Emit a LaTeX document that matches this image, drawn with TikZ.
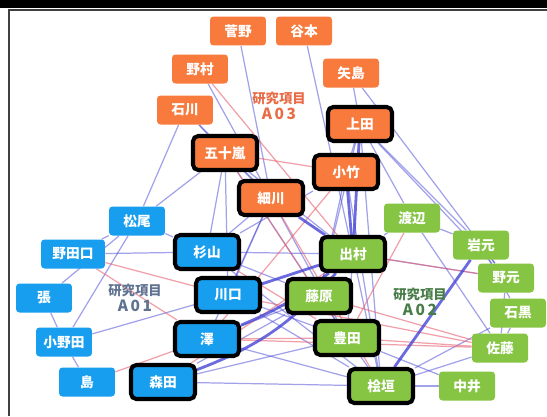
\documentclass[tikz,border=0pt]{standalone}
\usepackage{fontspec}
\setmainfont{Noto Sans CJK JP}
\usetikzlibrary{backgrounds}

\definecolor{teamA}{RGB}{24,158,238}
\definecolor{teamB}{RGB}{134,196,68}
\definecolor{teamC}{RGB}{248,122,60}
\definecolor{linkblue}{RGB}{70,70,215}
\definecolor{linkred}{RGB}{232,96,112}
\definecolor{labelA}{RGB}{95,115,145}
\definecolor{labelB}{RGB}{72,125,72}
\definecolor{labelC}{RGB}{232,108,70}

\tikzset{
  member/.style={rectangle, rounded corners=2pt, text=white, inner sep=1pt,
    font=\fontsize{7.8}{8}\selectfont\bfseries, minimum width=1.12cm, minimum height=0.58cm},
  leader/.style={member, draw=black, line width=2.3pt, rounded corners=3pt,
    minimum width=1.28cm, minimum height=0.68cm},
  grouplabel/.style={font=\fontsize{7.6}{9.4}\selectfont\bfseries, align=center, inner sep=0pt},
  link/.style={linkblue, opacity=.5, line width=.7pt},
  rlink/.style={linkred, opacity=.6, line width=.7pt},
  strong/.style={linkblue, opacity=.8, line width=1.6pt}
}

\begin{document}
\begin{tikzpicture}[x=0.02cm, y=-0.02cm]
  \useasboundingbox (0,0) rectangle (547,416);

  % A03 (orange)
  \node[member, fill=teamC] (sugano)   at (238,31)  {菅野};
  \node[member, fill=teamC] (tanimoto) at (304,31)  {谷本};
  \node[member, fill=teamC] (nomura)   at (200,69)  {野村};
  \node[member, fill=teamC] (yajima)   at (351,73)  {矢島};
  \node[member, fill=teamC] (ishikawa) at (185,110) {石川};
  \node[leader, fill=teamC] (ueda)     at (360,124) {上田};
  \node[leader, fill=teamC] (igarashi) at (225,153) {五十嵐};
  \node[leader, fill=teamC] (kotake)   at (346,172) {小竹};
  \node[leader, fill=teamC] (hosokawa) at (271,198) {細川};
  \node[grouplabel, text=labelC] (labC) at (279,106) {研究項目\\{\fontsize{8.8}{9}\selectfont A\,0\,3}};

  % A01 (blue)
  \node[member, fill=teamA] (matsuo)    at (137,221) {松尾};
  \node[member, fill=teamA, minimum width=1.28cm] (nodaguchi) at (73,254) {野田口};
  \node[leader, fill=teamA] (sugiyama)  at (207,252) {杉山};
  \node[member, fill=teamA] (cho)       at (44,298)  {張};
  \node[leader, fill=teamA] (kawaguchi) at (228,295) {川口};
  \node[member, fill=teamA] (onoda)     at (64,342)  {小野田};
  \node[leader, fill=teamA] (sawa)      at (207,339) {澤};
  \node[member, fill=teamA] (shima)     at (87,382)  {島};
  \node[leader, fill=teamA] (morita)    at (163,382) {森田};
  \node[grouplabel, text=labelA] (labA) at (135,298) {研究項目\\{\fontsize{8.8}{9}\selectfont A\,0\,1}};

  % A02 (green)
  \node[member, fill=teamB] (watanabe) at (412,218) {渡辺};
  \node[leader, fill=teamB] (demura)   at (353,254) {出村};
  \node[member, fill=teamB] (iwamoto)  at (481,245) {岩元};
  \node[member, fill=teamB] (nomoto)   at (506,278) {野元};
  \node[member, fill=teamB] (ishiguro) at (518,313) {石黒};
  \node[leader, fill=teamB] (fujiwara) at (319,296) {藤原};
  \node[leader, fill=teamB] (toyota)   at (347,338) {豊田};
  \node[member, fill=teamB] (sato)     at (500,348) {佐藤};
  \node[leader, fill=teamB] (higaki)   at (381,386) {桧垣};
  \node[member, fill=teamB] (nakai)    at (467,386) {中井};
  \node[grouplabel, text=labelB] (labB) at (420,302) {研究項目\\{\fontsize{8.8}{9}\selectfont A\,0\,2}};

  \begin{scope}[on background layer]
    \fill[white] (0,0) rectangle (547,416);
    \fill[black] (0,0) rectangle (547,8);
    \draw[black!75, line width=.8pt] (9,416) -- (9,10) -- (547,10);

    \foreach \a/\b in {sugano/hosokawa, tanimoto/demura, nomura/hosokawa, yajima/ueda,
        yajima/nomoto, ishikawa/igarashi, ishikawa/matsuo, ishikawa/hosokawa,
        ueda/iwamoto, ueda/nomoto, ueda/watanabe, ueda/higaki, ueda/kotake, ueda/fujiwara,
        igarashi/sugiyama, igarashi/hosokawa, igarashi/demura, igarashi/kawaguchi,
        igarashi/matsuo, igarashi/toyota, kotake/fujiwara, kotake/sugiyama, kotake/higaki,
        hosokawa/kawaguchi, hosokawa/sugiyama, hosokawa/toyota, hosokawa/sawa,
        matsuo/nodaguchi, matsuo/sugiyama, matsuo/cho, matsuo/onoda, nodaguchi/sugiyama,
        cho/onoda, onoda/shima, onoda/kawaguchi, sugiyama/demura, sugiyama/fujiwara,
        sugiyama/higaki, kawaguchi/toyota, kawaguchi/higaki, sawa/fujiwara, sawa/higaki,
        morita/higaki, morita/toyota, morita/fujiwara, demura/nomoto, demura/watanabe,
        demura/toyota, demura/higaki, fujiwara/higaki, toyota/nakai, higaki/nakai,
        higaki/sato, higaki/ishiguro, watanabe/iwamoto, iwamoto/nomoto, nomoto/sato,
        sato/ishiguro, watanabe/sato, iwamoto/ishiguro}
      \draw[link] (\a) -- (\b);

    \foreach \a/\b in {nomura/demura, igarashi/kotake, igarashi/fujiwara, kotake/sawa,
        nodaguchi/kawaguchi, nodaguchi/sawa, shima/sawa, sawa/toyota, sawa/sato,
        kawaguchi/sato, toyota/sato, fujiwara/sato, watanabe/toyota, morita/demura,
        sugiyama/toyota, hosokawa/higaki, demura/nomoto}
      \draw[rlink] (\a) -- (\b);

    \foreach \a/\b in {ueda/demura, kotake/demura, hosokawa/demura, iwamoto/higaki,
        kawaguchi/demura}
      \draw[strong] (\a) -- (\b);
    \draw[strong] (sawa) to[bend right=8] (demura);
    \draw[strong] (morita) to[bend right=14] (demura);
  \end{scope}
\end{tikzpicture}
\end{document}
